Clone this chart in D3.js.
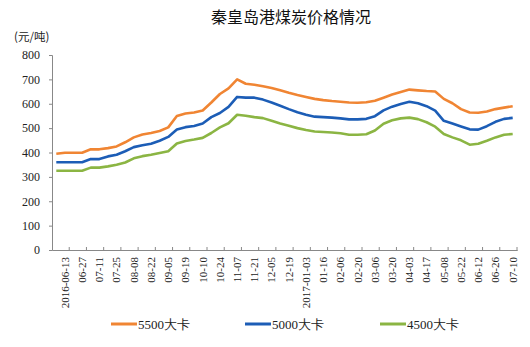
<!DOCTYPE html>
<html><head><meta charset="utf-8">
<script src="https://cdn.jsdelivr.net/npm/d3@7"></script>
<style>body{margin:0;background:#fff}svg{display:block}</style>
</head><body>
<svg id="c" width="530" height="347"></svg>
<script>
const categories = ["2016-06-06","2016-06-13","06-20","06-27","07-04","07-11","07-18","07-25","08-01","08-08","08-15","08-22","08-29","09-05","09-12","09-19","09-26","10-10","10-17","10-24","10-31","11-07","11-14","11-21","11-28","12-05","12-12","12-19","12-26","2017-01-03","01-09","01-16","01-23","02-06","02-13","02-20","02-27","03-06","03-13","03-20","03-27","04-03","04-10","04-17","04-24","05-08","05-15","05-22","05-31","06-12","06-19","06-26","07-03","07-10"];
const s5500 = [395,399,399,399,413,413,418,425,442,462,474,480,488,503,550,560,564,572,605,640,663,700,682,678,672,665,655,645,636,628,620,615,611,608,605,604,606,612,625,638,648,658,655,652,650,620,602,578,564,563,568,578,584,590];
const s5000 = [360,360,360,360,373,373,384,391,405,422,430,436,448,464,494,504,509,519,545,562,587,628,625,625,617,605,592,578,565,555,547,545,543,540,536,536,538,549,573,588,599,608,602,590,572,530,519,507,495,494,508,526,538,542];
const s4500 = [325,325,325,325,338,338,343,350,359,376,385,391,398,405,437,447,453,460,480,503,520,555,551,545,541,530,519,510,500,492,486,484,482,479,473,473,475,490,518,532,540,543,537,524,506,476,462,450,432,436,448,462,473,476];
const seriesNames = ["5500大卡","5000大卡","4500大卡"];
const colors = ["#F08533","#1C5DB6","#8BB543"];
const yTicks = [0,100,200,300,400,500,600,700,800];
const title = "秦皇岛港煤炭价格情况";
const unit = "(元/吨)";

const svg = d3.select("#c");
const L = 52, R = 517, T = 55, B = 250;
const x = d3.scaleBand().domain(d3.range(categories.length)).range([L, R]).padding(0);
const y = d3.scaleLinear().domain([0, 800]).range([B, T]);
const serif = "'Times New Roman','Liberation Serif',serif";

svg.append("text").attr("x", 291).attr("y", 23).attr("text-anchor", "middle")
  .style("font-family", "'Noto Sans CJK SC',sans-serif").style("font-size", "16px").attr("fill", "#111").text(title);
svg.append("text").attr("x", 14).attr("y", 41)
  .style("font-family", "'Noto Sans CJK SC',sans-serif").style("font-size", "11.5px").attr("fill", "#222").text(unit);

// y axis
const ya = svg.append("g").attr("transform", `translate(${L},0)`)
  .call(d3.axisLeft(y).tickValues(yTicks).tickSize(3).tickPadding(9).tickFormat(d3.format("d")));
ya.select(".domain").attr("stroke", "#888");
ya.selectAll(".tick line").attr("stroke", "#888");
ya.selectAll("text").style("font-family", serif).style("font-size", "12px").attr("fill", "#222");

// x axis
const labelIdx = d3.range(1, categories.length, 2);
const xa = svg.append("g").attr("transform", `translate(0,${B})`)
  .call(d3.axisBottom(x).tickValues(labelIdx).tickSize(0).tickPadding(0).tickFormat(i => categories[i]));
xa.select(".domain").attr("stroke", "#888");
xa.selectAll(".tick text")
  .attr("transform", "rotate(-90)").attr("x", -7).attr("y", 0).attr("dy", "0.35em")
  .attr("text-anchor", "end")
  .style("font-family", serif).style("font-size", "11px").attr("fill", "#222");
// tick marks at category boundaries
xa.selectAll(".bt").data(labelIdx).enter().append("line").attr("class", "bt")
  .attr("x1", i => x(i) + x.bandwidth()).attr("x2", i => x(i) + x.bandwidth())
  .attr("y1", -3).attr("y2", 1).attr("stroke", "#888");

// lines
const line = d3.line().x((d, i) => x(i) + x.bandwidth() / 2).y(d => y(d)).curve(d3.curveLinear);
[s5500, s5000, s4500].forEach((s, k) => {
  svg.append("path").datum(s).attr("d", line).attr("fill", "none")
    .attr("stroke", colors[k]).attr("stroke-width", 2.6).attr("stroke-linejoin", "round");
});

// legend
const lx = [111, 245, 380];
seriesNames.forEach((n, k) => {
  svg.append("line").attr("x1", lx[k]).attr("x2", lx[k] + 26).attr("y1", 324).attr("y2", 324)
    .attr("stroke", colors[k]).attr("stroke-width", 3);
  svg.append("text").attr("x", lx[k] + 27).attr("y", 328.5)
    .style("font-family", serif).style("font-size", "13px").attr("fill", "#222").text(n);
});
</script>
</body></html>
